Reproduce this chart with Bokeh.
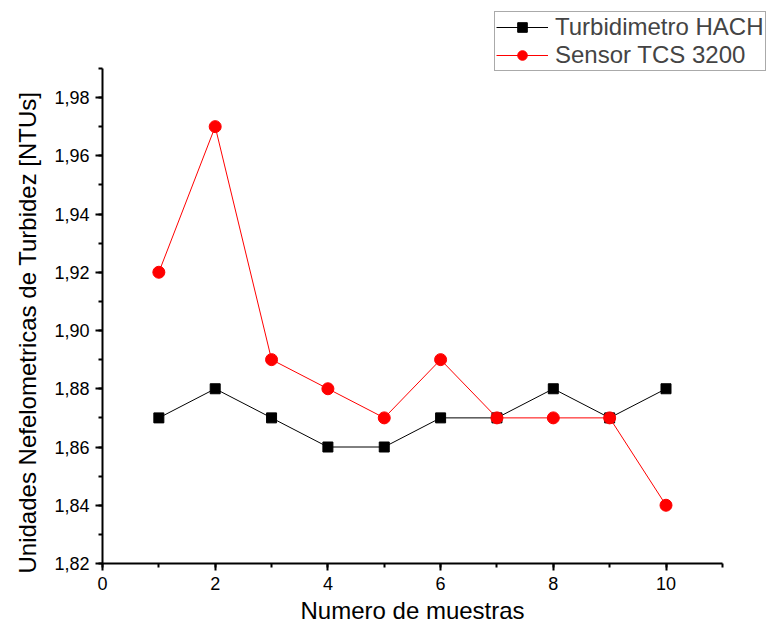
from bokeh.plotting import figure
from bokeh.models import Range1d, SingleIntervalTicker, CustomJSTickFormatter, Legend, LegendItem, Title
from bokeh.embed import file_html
from bokeh.resources import INLINE

muestras = [1, 2, 3, 4, 5, 6, 7, 8, 9, 10]
hach = [1.87, 1.88, 1.87, 1.86, 1.86, 1.87, 1.87, 1.88, 1.87, 1.88]
tcs = [1.92, 1.97, 1.89, 1.88, 1.87, 1.89, 1.87, 1.87, 1.87, 1.84]

x_label = "Numero de muestras"
y_label = "Unidades Nefelometricas de Turbidez [NTUs]"

FONT = "Liberation Sans"

W, H = 766, 630
LEFT, BOTTOM = 102, 67          # frame borders (px)
PX_PER_X = 56.35                # px per x unit
PX_PER_Y = 2912.5               # px per y unit

p = figure(width=W, height=H, output_backend="svg", toolbar_location=None,
           x_range=Range1d(0, (W - LEFT) / PX_PER_X),
           y_range=Range1d(1.82, 1.82 + (H - BOTTOM) / PX_PER_Y),
           min_border_left=LEFT, min_border_right=0, min_border_top=0, min_border_bottom=BOTTOM)
p.outline_line_color = None
p.xgrid.visible = False
p.ygrid.visible = False

l1 = p.line(muestras, hach, line_color="black", line_width=1)
m1 = p.scatter(muestras, hach, marker="square", size=10, fill_color="black", line_color="black")
l2 = p.line(muestras, tcs, line_color="red", line_width=1)
m2 = p.scatter(muestras, tcs, marker="circle", size=12, fill_color="red", line_color="red")

p.xaxis.ticker = SingleIntervalTicker(interval=2, num_minor_ticks=2)
p.yaxis.ticker = SingleIntervalTicker(interval=0.02, num_minor_ticks=2)
p.yaxis.formatter = CustomJSTickFormatter(code="return tick.toFixed(2).replace('.', ',');")
p.xaxis.formatter = CustomJSTickFormatter(code="return tick.toFixed(0);")
p.xaxis.bounds = (0, 11)
p.yaxis.bounds = (1.82, 1.99)

for ax in (p.xaxis[0], p.yaxis[0]):
    ax.axis_line_width = 2
    ax.major_tick_line_width = 2
    ax.minor_tick_line_width = 2
    ax.major_tick_out = 7
    ax.major_tick_in = 0
    ax.minor_tick_out = 4
    ax.minor_tick_in = 0
    ax.major_label_text_font = FONT
    ax.major_label_text_font_size = "18px"
    ax.major_label_text_color = "black"
    ax.major_label_standoff = 6

# axis titles as side-panel titles so they can be placed along the drawn axis
xt = Title(text=x_label, align="left", offset=198, standoff=5,
           text_font=FONT, text_font_size="24px", text_font_style="normal", text_color="black")
yt = Title(text=y_label, align="left", offset=-10, standoff=22,
           text_font=FONT, text_font_size="24px", text_font_style="normal", text_color="black")
p.add_layout(xt, "below")
p.add_layout(yt, "left")

legend = Legend(items=[LegendItem(label="Turbidimetro HACH", renderers=[l1, m1]),
                       LegendItem(label="Sensor TCS 3200", renderers=[l2, m2])],
                location=(392, 492))
legend.label_text_font = FONT
legend.label_text_font_size = "24px"
legend.border_line_color = "#555555"
legend.border_line_width = 1
legend.glyph_width = 52
legend.glyph_height = 24
legend.label_height = 24
legend.spacing = 0
legend.padding = 1
legend.margin = 0
legend.label_standoff = 7
legend.background_fill_alpha = 1
p.add_layout(legend, "center")

open("out.html", "w").write(file_html(p, INLINE))
